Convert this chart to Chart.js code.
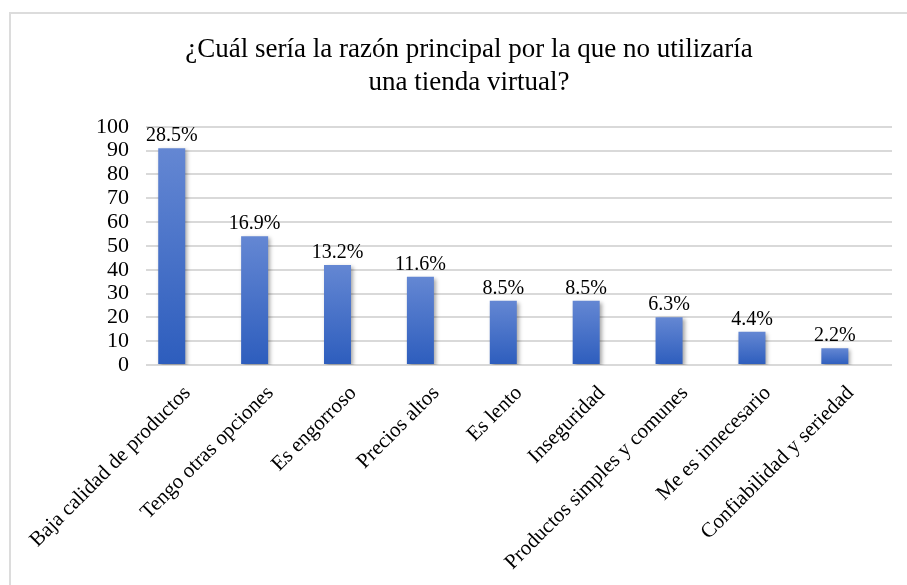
<!DOCTYPE html>
<html lang="es">

<head>
  <meta charset="UTF-8">
  <title>Razón principal por la que no utilizaría una tienda virtual</title>

  <!-- Chart.js -->
  <script src="https://cdn.jsdelivr.net/npm/chart.js"></script>

  <style>
    html, body {
      margin: 0;
      padding: 0;
      background: #ffffff;
      overflow: hidden;
    }

    .frame {
      position: absolute;
      left: 9px;
      top: 12px;
      width: 920px;
      height: 580px;
      border: 2px solid #dcdcdc;
      box-sizing: border-box;
    }

    #chart {
      position: absolute;
      left: 9px;
      top: 12px;
    }
  </style>
</head>

<body>
  <div class="frame"></div>
  <canvas id="chart" width="920" height="580"></canvas>

  <script>
    // Data
    const titleLines = ['¿Cuál sería la razón principal por la que no utilizaría', 'una tienda virtual?'];
    const categories = [
      'Baja calidad de productos',
      'Tengo otras opciones',
      'Es engorroso',
      'Precios altos',
      'Es lento',
      'Inseguridad',
      'Productos simples y comunes',
      'Me es innecesario',
      'Confiabilidad y seriedad'
    ];
    const counts = [91, 54, 42, 37, 27, 27, 20, 14, 7];
    const percents = [28.5, 16.9, 13.2, 11.6, 8.5, 8.5, 6.3, 4.4, 2.2];

    const serif = "'Liberation Serif', 'Times New Roman', serif";

    // Per-bar vertical gradient (lighter at the top)
    function barGradient(context) {
      const chart = context.chart;
      const yScale = chart.scales.y;
      if (!chart.chartArea || !yScale) return '#4472c4';
      const v = context.raw || 0;
      const top = yScale.getPixelForValue(v);
      const bottom = yScale.getPixelForValue(0);
      const g = chart.ctx.createLinearGradient(0, top, 0, bottom);
      g.addColorStop(0, '#6487d3');
      g.addColorStop(1, '#2d5dbd');
      return g;
    }

    // Soft shadow behind the visible bars
    const barShadow = {
      id: 'barShadow',
      beforeDatasetDraw(chart, args) {
        if (args.index !== 0) return;
        const ctx = chart.ctx;
        ctx.save();
        ctx.shadowColor = 'rgba(0, 0, 0, 0.35)';
        ctx.shadowBlur = 4;
        ctx.shadowOffsetX = 2;
        ctx.shadowOffsetY = 2;
      },
      afterDatasetDraw(chart, args) {
        if (args.index !== 0) return;
        chart.ctx.restore();
      }
    };

    // Percentage labels above each bar
    const pctLabels = {
      id: 'pctLabels',
      afterDatasetsDraw(chart) {
        const ctx = chart.ctx;
        const meta = chart.getDatasetMeta(0);
        ctx.save();
        ctx.font = '20px ' + serif;
        ctx.fillStyle = '#000000';
        ctx.textAlign = 'center';
        ctx.textBaseline = 'alphabetic';
        meta.data.forEach((bar, i) => {
          ctx.fillText(percents[i].toFixed(1) + '%', bar.x, bar.y - 7);
        });
        ctx.restore();
      }
    };

    const ctx = document.getElementById('chart').getContext('2d');

    new Chart(ctx, {
      type: 'bar',
      data: {
        labels: categories,
        datasets: [
          {
            label: 'Respuestas',
            data: counts,
            backgroundColor: barGradient,
            categoryPercentage: 0.758,
            barPercentage: 0.86
          },
          {
            // hidden percentage series (keeps the bars shifted as in the original)
            label: 'Porcentaje',
            data: percents,
            backgroundColor: 'rgba(0,0,0,0)',
            categoryPercentage: 0.758,
            barPercentage: 0.86
          }
        ]
      },
      options: {
        responsive: false,
        animation: false,
        devicePixelRatio: 1,
        layout: {
          padding: 0
        },
        plugins: {
          legend: { display: false },
          tooltip: { enabled: false },
          title: {
            display: true,
            text: titleLines,
            color: '#000000',
            font: { family: serif, size: 27, weight: 'normal', lineHeight: 1.2 },
            padding: { top: 22, bottom: 28 }
          }
        },
        scales: {
          x: {
            grid: { display: false, drawTicks: false },
            border: { display: false },
            ticks: {
              color: '#000000',
              font: { family: serif, size: 21 },
              minRotation: 45,
              maxRotation: 45,
              padding: 16,
              autoSkip: false
            },
            afterFit(scale) {
              scale.height = 227;
            }
          },
          y: {
            min: 0,
            max: 100,
            grid: { color: '#d9d9d9', lineWidth: 2, drawTicks: false },
            border: { display: false },
            ticks: {
              stepSize: 10,
              autoSkip: false,
              color: '#000000',
              font: { family: serif, size: 22 },
              padding: 17
            },
            afterFit(scale) {
              scale.width = 137;
            }
          },
          // empty right-hand spacer so the title stays centred on the frame
          spacer: {
            type: 'linear',
            position: 'right',
            display: true,
            grid: { display: false, drawTicks: false },
            border: { display: false },
            ticks: { display: false },
            afterFit(scale) {
              scale.width = 37;
            }
          }
        }
      },
      plugins: [barShadow, pctLabels]
    });
  </script>

</body>

</html>
